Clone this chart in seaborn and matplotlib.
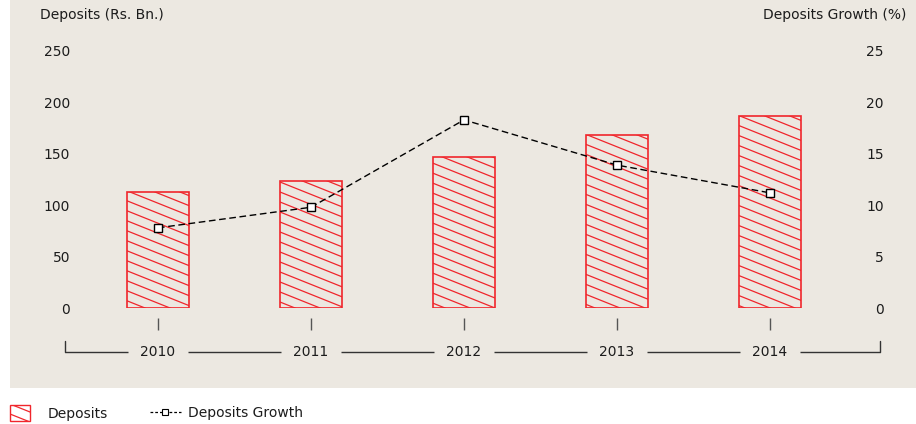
import warnings
import numpy as np
import pandas as pd
import matplotlib
matplotlib.use("Agg")
import matplotlib.pyplot as plt
import matplotlib.hatch as mhatch
from matplotlib.path import Path
from matplotlib.patches import Rectangle, Patch
from matplotlib.lines import Line2D
import seaborn as sns

warnings.filterwarnings("ignore")

# ---- data ----
years = ["2010", "2011", "2012", "2013", "2014"]
deposits = [113, 123.5, 147, 168, 187]          # Rs. Bn.
deposits_growth = [7.8, 9.8, 18.3, 13.9, 11.2]  # %
left_ticks = [0, 50, 100, 150, 200, 250]
right_ticks = [0, 5, 10, 15, 20, 25]

BG = "#ece8e1"
RED = "#f0262c"
TXT = "#1c1c1c"


# shallow descending hatch ('~'), slope 0.4, tiles seamlessly
class ShallowHatch(mhatch.HatchPatternBase):
    def __init__(self, hatch, density):
        self.n = 10 if "~" in hatch else 0
        self.num_lines = 3 * self.n
        self.num_vertices = 2 * self.num_lines

    def set_vertices_and_codes(self, vertices, codes):
        starts = np.arange(-self.n, 2 * self.n) / self.n
        vertices[0::2, 0] = 0.0
        vertices[0::2, 1] = starts
        vertices[1::2, 0] = 1.0
        vertices[1::2, 1] = starts - 0.4
        codes[0::2] = Path.MOVETO
        codes[1::2] = Path.LINETO


mhatch._hatch_types.append(ShallowHatch)

sns.set_style("white")
plt.rcParams["font.family"] = ["DejaVu Sans"]
plt.rcParams["font.size"] = 10
plt.rcParams["hatch.linewidth"] = 0.9
plt.rcParams["text.color"] = TXT

df = pd.DataFrame({"year": years, "deposits": deposits, "growth": deposits_growth})

W, H = 916, 424
fig = plt.figure(figsize=(W / 100, H / 100), dpi=100)
fig.patch.set_facecolor("white")
fig.patches.append(Rectangle((10 / W, 36 / H), 906 / W, 388 / H,
                             transform=fig.transFigure, facecolor=BG,
                             edgecolor="none", zorder=-5))

ax = fig.add_axes([70 / W, 116 / H, 814 / W, 257 / H])
ax.patch.set_alpha(0)

sns.barplot(data=df, x="year", y="deposits", ax=ax, width=0.4, color=RED)
for bar in ax.patches:
    bar.set_facecolor("none")
    bar.set_edgecolor(RED)
    bar.set_linewidth(1.2)
    bar.set_hatch("~")

ax2 = ax.twinx()
sns.pointplot(data=df, x="year", y="growth", ax=ax2, color="black",
              markers="s", errorbar=None)
ln = ax2.lines[0]
ln.set_linestyle((0, (4.8, 2.6)))
ln.set_linewidth(1.0)
ln.set_color("black")
ln.set_marker("s")
ln.set_markersize(6.2)
ln.set_markerfacecolor("white")
ln.set_markeredgecolor("black")
ln.set_markeredgewidth(1.0)
for c in list(ax2.collections):
    c.remove()

ax.set_xlim(-0.575, 4.745)
ax2.set_xlim(-0.575, 4.745)
ax.set_ylim(0, 250)
ax2.set_ylim(0, 25)

for a in (ax, ax2):
    for s in a.spines.values():
        s.set_visible(False)
    a.grid(False)
    a.set_xlabel("")
    a.set_ylabel("")

ax.set_yticks(left_ticks, [str(v) for v in left_ticks])
ax.tick_params(axis="y", length=0, pad=0, labelsize=10, labelcolor=TXT)
ax2.set_yticks(right_ticks, [str(v) for v in right_ticks])
ax2.tick_params(axis="y", length=0, pad=0, labelsize=10, labelcolor=TXT)
for lab in ax2.get_yticklabels():
    lab.set_horizontalalignment("right")

# year ticks hang below the baseline, labels sit on a bracket line
ax.spines["bottom"].set_position(("outward", 7.2))
ax.tick_params(axis="x", bottom=True, length=8.6, width=1.0, color="#555555",
               pad=10.5, labelsize=10, labelcolor=TXT)

xt = ax.get_xaxis_transform()
yb = -44 / 257
ye = -33 / 257
x_lo, x_hi = -0.608, 4.719
gap = 0.196
pos = np.arange(len(years))
edges = np.concatenate([[x_lo], np.ravel(np.column_stack([pos - gap, pos + gap])), [x_hi]])
for i in range(0, len(edges), 2):
    ax.plot([edges[i], edges[i + 1]], [yb, yb], transform=xt,
            color="#333333", lw=1.0, clip_on=False, solid_capstyle="butt")
ax.plot([x_lo, x_lo], [ye, yb], transform=xt, color="#333333", lw=1.0, clip_on=False)
ax.plot([x_hi, x_hi], [ye, yb], transform=xt, color="#333333", lw=1.0, clip_on=False)

fig.text(40 / W, 1 - 15 / H, "Deposits (Rs. Bn.)", ha="left", va="center",
         fontsize=10, color=TXT)
fig.text(906 / W, 1 - 15 / H, "Deposits Growth (%)", ha="right", va="center",
         fontsize=10, color=TXT)

h1 = Patch(facecolor="none", edgecolor=RED, hatch="~", lw=1.0)
h2 = Line2D([], [], color="black", ls=(0, (2.2, 1.6)), lw=0.9, marker="s",
            ms=5, mfc="white", mec="black", mew=0.8)
fig.legend(handles=[h1], labels=["Deposits"], loc="center left",
           bbox_to_anchor=(10 / W, 1 - 413 / H), frameon=False,
           handlelength=1.45, handleheight=1.45, handletextpad=1.25,
           borderpad=0, borderaxespad=0, fontsize=10)
fig.legend(handles=[h2], labels=["Deposits Growth"], loc="center left",
           bbox_to_anchor=(150 / W, 1 - 413 / H), frameon=False,
           handlelength=2.2, handletextpad=0.55,
           borderpad=0, borderaxespad=0, fontsize=10)

fig.savefig("out.png", dpi=100, facecolor="white")
